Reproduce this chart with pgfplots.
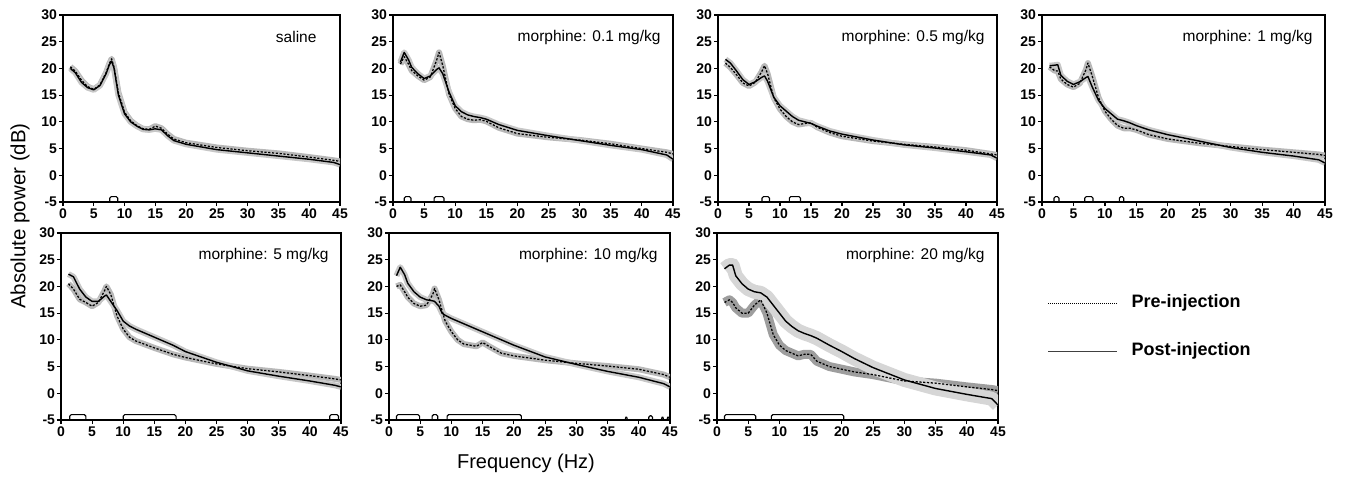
\documentclass[border=0pt]{standalone}
\usepackage{pgfplots}
\pgfplotsset{compat=1.18}
\usepackage{pgfplotstable}
\usepackage{fontspec}
\setmainfont{Liberation Sans}

% saline
\pgfplotstableread{
f pre post
1.2 20.3 20.0
2 19.5 19.2
3 17.8 17.4
4 16.6 16.4
5 16.1 16.0
6 16.9 16.8
7 19.2 19.0
7.5 20.8 20.6
7.9 21.8 21.4
8.3 20.2 20.0
9 15.5 15.0
10 11.8 11.5
11 10.2 10.0
12 9.3 9.2
13 8.7 8.6
14 8.6 8.5
15 9.2 8.7
16 8.8 8.5
17 7.7 7.4
18 6.8 6.5
20 6.1 5.8
25 5.2 4.8
30 4.6 4.2
35 4.1 3.6
40 3.4 3.0
44 2.8 2.4
45 2.6 2.0
}\tabA
% 0.1
\pgfplotstableread{
f pre post
1.2 20.8 21.2
1.8 22.2 23.0
2.5 20.8 21.6
3 19.6 20.2
4 18.6 19.0
5 17.8 18.1
6 18.4 18.6
7 21.5 19.8
7.4 23.0 20.1
8 20.5 19.0
9 15.2 15.6
10 12.5 13.0
11 11.0 11.9
12 10.5 11.3
13 10.3 11.0
14 10.4 10.8
15 10.1 10.5
17 8.9 9.5
20 7.8 8.4
25 7.1 7.4
30 6.6 6.5
35 5.9 5.6
40 5.0 4.8
44 4.3 3.8
45 4.0 3.0
}\tabB
% 0.5
\pgfplotstableread{
f pre post
1.2 21.0 21.7
2 20.2 21.0
3 18.8 19.5
4 17.3 17.9
5 16.7 17.0
6 17.4 17.5
7 19.3 18.3
7.5 20.5 18.6
8 19.0 17.6
9 14.5 14.6
10 12.4 13.0
11 11.0 12.0
12 10.0 11.0
13 9.5 10.3
14 9.7 10.0
15 9.8 9.7
16 9.0 9.2
18 8.0 8.3
20 7.3 7.7
25 6.4 6.6
30 5.8 5.7
35 5.3 5.1
40 4.7 4.4
44 4.0 3.8
45 3.8 3.2
}\tabC
% 1
\pgfplotstableread{
f pre post
1.2 20.3 20.5
2 19.6 20.6
2.5 19.5 20.7
3 18.0 18.7
4 17.0 17.6
5 16.5 17.0
6 17.2 17.5
7 19.8 18.3
7.3 21.0 18.5
8 18.5 16.5
9 14.5 14.0
10 12.0 12.5
11 10.5 11.5
12 9.3 10.5
13 8.8 10.2
14 8.8 9.8
15 8.5 9.3
17 7.6 8.5
20 6.8 7.6
25 6.0 6.4
30 5.4 5.2
35 4.8 4.3
40 4.3 3.6
44 3.9 2.9
45 3.7 2.3
}\tabD
% 5
\pgfplotstableread{
f pre post
1.2 20.5 22.3
2 19.5 21.8
3 17.6 19.5
4 17.0 18.0
5 16.3 17.2
6 17.0 17.2
7 19.2 18.2
7.3 20.0 18.4
8 18.5 17.2
9 14.5 15.5
10 12.0 13.5
11 10.5 12.6
12 9.8 12.0
15 8.5 10.5
18 7.3 9.0
20 6.7 7.8
25 5.5 5.8
30 4.6 4.2
35 4.0 3.2
40 3.3 2.3
44 2.7 1.5
45 2.5 1.2
}\tabE
% 10
\pgfplotstableread{
f pre post
1.2 20.0 22.0
1.8 20.3 23.6
2.5 19.0 22.2
3 18.0 20.6
4 16.8 19.0
5 16.3 18.0
6 16.5 17.5
7 18.5 17.3
7.3 19.6 17.2
8 17.5 16.3
8.5 15.5 15.0
9 13.5 14.6
10 11.5 14.0
11 10.0 13.5
12 9.2 13.0
13 9.0 12.5
14 8.8 12.0
15 9.5 11.5
16 8.8 11.0
18 7.5 10.0
20 7.0 9.0
25 6.2 6.8
30 5.6 5.4
35 5.1 4.1
40 4.5 3.0
44 3.5 1.8
45 3.0 1.2
}\tabF
% 20
\pgfplotstableread{
f pre post
1.2 17.0 23.3
2 17.5 24.0
2.5 17.0 24.0
3 16.0 22.0
4 15.0 20.5
5 15.0 19.5
6 16.5 19.0
7 17.5 18.8
8 15.0 18.0
9 11.0 16.5
10 9.0 15.0
11 8.0 13.5
12 7.5 12.5
13 7.0 11.7
14 7.3 11.2
15 7.3 10.8
16 6.0 10.3
18 5.0 9.0
20 4.5 7.8
22 4.0 6.5
25 3.5 4.8
30 2.3 2.5
35 1.9 0.9
40 1.2 -0.2
44 0.7 -1.0
45 0.5 -2.2
}\tabG

\pgfplotsset{
  panel/.style={
    anchor=north west, scale only axis, height=187pt,
    xmin=0, xmax=45, ymin=-5, ymax=30,
    xtick={0,5,...,45}, ytick={-5,0,...,30},
    tick align=outside, tick pos=left,
    major tick length=4pt,
    axis line style={line width=1.4pt},
    every tick/.style={black, line width=1.2pt},
    ticklabel style={font=\fontsize{14}{14}\selectfont\bfseries},
    /pgf/number format/assume math mode=true,
    yticklabel style={xshift=1.5pt},
    xticklabel style={yshift=1pt},
  },
  band/.style={line width=6pt, color=black!22, line join=round},
  bandpre/.style={line width=6pt, color=black!28, line join=round},
  preline/.style={black, line width=1.25pt, dash pattern=on 2.2pt off 1.6pt, line join=round},
  postline/.style={black, line width=1.4pt, line join=round},
  sig/.style={black, line width=1.1pt, rounded corners=1.5pt},
}
\tikzset{lab/.style={font=\fontsize{15.5}{16}\selectfont, anchor=east}}

\newcommand{\curves}[1]{%
  \addplot[bandpre] table[x=f, y=pre] {#1};
  \addplot[band] table[x=f, y=post] {#1};
  \addplot[preline] table[x=f, y=pre] {#1};
  \addplot[postline] table[x=f, y=post] {#1};
}

\begin{document}
\begin{tikzpicture}
\path[use as bounding box] (0pt,0pt) rectangle (1346pt,-477pt);

% ---- top row ----
\begin{axis}[panel, width=277pt, at={(63pt,-15pt)}]
\curves{\tabA}
\addplot[sig] coordinates {(7.6,-5) (7.6,-4) (8.9,-4) (8.9,-5)};
\node[lab, xshift=-20pt, yshift=-22pt] at (rel axis cs:1,1) {saline};
\end{axis}

\begin{axis}[panel, width=280pt, at={(393pt,-15pt)}]
\curves{\tabB}
\addplot[sig] coordinates {(1.8,-5) (1.8,-4) (2.9,-4) (2.9,-5)};
\addplot[sig] coordinates {(6.6,-5) (6.6,-4) (8.2,-4) (8.2,-5)};
\node[lab, xshift=-9pt, yshift=-22pt] at (rel axis cs:1,1) {morphine: 0.1 mg/kg};
\end{axis}

\begin{axis}[panel, width=279pt, at={(718pt,-15pt)}]
\curves{\tabC}
\addplot[sig] coordinates {(7.1,-5) (7.1,-4) (8.3,-4) (8.3,-5)};
\addplot[sig] coordinates {(11.5,-5) (11.5,-4) (13.3,-4) (13.3,-5)};
\node[lab, xshift=-9pt, yshift=-22pt] at (rel axis cs:1,1) {morphine: 0.5 mg/kg};
\end{axis}

\begin{axis}[panel, width=283pt, at={(1042pt,-15pt)}]
\curves{\tabD}
\addplot[sig] coordinates {(1.9,-5) (1.9,-4) (2.7,-4) (2.7,-5)};
\addplot[sig] coordinates {(6.8,-5) (6.8,-4) (8.1,-4) (8.1,-5)};
\addplot[sig] coordinates {(12.3,-5) (12.3,-4) (13.0,-4) (13.0,-5)};
\node[lab, xshift=-9pt, yshift=-22pt] at (rel axis cs:1,1) {morphine: 1 mg/kg};
\end{axis}

% ---- bottom row ----
\begin{axis}[panel, width=280pt, at={(61pt,-233pt)}]
\curves{\tabE}
\addplot[sig] coordinates {(1.4,-5) (1.4,-4) (4.0,-4) (4.0,-5)};
\addplot[sig] coordinates {(10,-5) (10,-4) (18.5,-4) (18.5,-5)};
\addplot[sig] coordinates {(43.2,-5) (43.2,-4) (44.6,-4) (44.6,-5)};
\node[lab, xshift=-9pt, yshift=-22pt] at (rel axis cs:1,1) {morphine: 5 mg/kg};
\end{axis}

\begin{axis}[panel, width=281pt, at={(389pt,-233pt)}]
\curves{\tabF}
\addplot[sig] coordinates {(1.2,-5) (1.2,-4) (4.9,-4) (4.9,-5)};
\addplot[sig] coordinates {(6.9,-5) (6.9,-4) (7.8,-4) (7.8,-5)};
\addplot[sig] coordinates {(9.3,-5) (9.3,-4) (21.2,-4) (21.2,-5)};
\addplot[sig] coordinates {(37.8,-5) (38.0,-4.2) (38.2,-5)};
\addplot[sig] coordinates {(41.6,-5) (41.6,-4.2) (42.2,-4.2) (42.2,-5)};
\addplot[sig] coordinates {(43.6,-5) (43.8,-4.2) (44.0,-5)};
\addplot[sig] coordinates {(44.5,-5) (44.7,-4.2) (44.9,-5)};
\node[lab, xshift=-9pt, yshift=-22pt] at (rel axis cs:1,1) {morphine: 10 mg/kg};
\end{axis}

\begin{axis}[panel, width=281pt, at={(717pt,-233pt)},
  band/.style={line width=14pt, color=black!16, line join=round},
  bandpre/.style={line width=9pt, color=black!38, line join=round}]
\curves{\tabG}
\addplot[sig] coordinates {(1.2,-5) (1.2,-4) (6.2,-4) (6.2,-5)};
\addplot[sig] coordinates {(8.7,-5) (8.7,-4) (20.3,-4) (20.3,-5)};
\node[lab, xshift=-10pt, yshift=-22pt] at (rel axis cs:1,1) {morphine: 20 mg/kg};
\end{axis}

% ---- shared labels ----
\node[rotate=90, font=\fontsize{20.5}{21}\selectfont] at (20pt,-216pt) {Absolute power (dB)};
\node[font=\fontsize{20}{21}\selectfont] at (526pt,-463pt) {Frequency (Hz)};

% ---- legend ----
\draw[black, line width=0.7pt, dash pattern=on 1pt off 1pt] (1048pt,-303pt) -- (1117pt,-303pt);
\node[anchor=west, font=\fontsize{18}{18}\selectfont\bfseries] at (1128pt,-303pt) {Pre-injection};
\draw[black!75, line width=1pt] (1048pt,-351pt) -- (1117pt,-351pt);
\node[anchor=west, font=\fontsize{18}{18}\selectfont\bfseries] at (1128pt,-351pt) {Post-injection};
\end{tikzpicture}
\end{document}
